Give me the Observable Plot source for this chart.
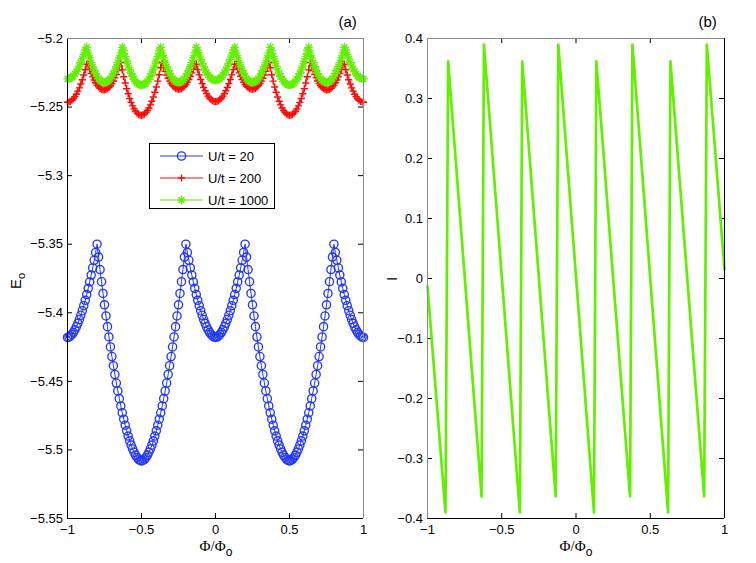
<!DOCTYPE html>
<html><head><meta charset="utf-8">
<script src="https://cdn.jsdelivr.net/npm/d3@7"></script>
<script src="https://cdn.jsdelivr.net/npm/@observablehq/plot@0.6"></script>
<style>
body{margin:0;background:#fff}
#fig{position:relative;width:756px;height:563px;font-family:"Liberation Sans",Arial,sans-serif}
#fig svg{position:absolute;top:0}
</style></head><body><div id="fig"></div>
<script>
// Flux grid: Phi/Phi0 from -1 to 1 in steps of 0.01
const phiStart = -1, phiStep = 0.01;
const seriesLabels = ["U/t = 20", "U/t = 200", "U/t = 1000"];

// Panel (a): ground-state energy E_o
const E_U20 = [
-5.4180,-5.4177,-5.4169,-5.4158,-5.4143,-5.4124,-5.4102,-5.4077,-5.4049,-5.4018,
-5.3985,-5.3948,-5.3909,-5.3867,-5.3822,-5.3775,-5.3725,-5.3673,-5.3617,-5.3560,
-5.3500,-5.3594,-5.3685,-5.3773,-5.3859,-5.3942,-5.4023,-5.4101,-5.4176,-5.4249,
-5.4319,-5.4386,-5.4450,-5.4512,-5.4570,-5.4626,-5.4679,-5.4729,-5.4776,-5.4820,
-5.4861,-5.4899,-5.4934,-5.4965,-5.4993,-5.5017,-5.5038,-5.5055,-5.5068,-5.5077,
-5.5080,-5.5077,-5.5068,-5.5055,-5.5038,-5.5017,-5.4993,-5.4965,-5.4934,-5.4899,
-5.4861,-5.4820,-5.4776,-5.4729,-5.4679,-5.4626,-5.4570,-5.4512,-5.4450,-5.4386,
-5.4319,-5.4249,-5.4176,-5.4101,-5.4023,-5.3942,-5.3859,-5.3773,-5.3685,-5.3594,
-5.3500,-5.3560,-5.3617,-5.3673,-5.3725,-5.3775,-5.3822,-5.3867,-5.3909,-5.3948,
-5.3985,-5.4018,-5.4049,-5.4077,-5.4102,-5.4124,-5.4143,-5.4158,-5.4169,-5.4177,
-5.4180,
-5.4177,-5.4169,-5.4158,-5.4143,-5.4124,-5.4102,-5.4077,-5.4049,-5.4018,-5.3985,
-5.3948,-5.3909,-5.3867,-5.3822,-5.3775,-5.3725,-5.3673,-5.3617,-5.3560,-5.3500,
-5.3594,-5.3685,-5.3773,-5.3859,-5.3942,-5.4023,-5.4101,-5.4176,-5.4249,-5.4319,
-5.4386,-5.4450,-5.4512,-5.4570,-5.4626,-5.4679,-5.4729,-5.4776,-5.4820,-5.4861,
-5.4899,-5.4934,-5.4965,-5.4993,-5.5017,-5.5038,-5.5055,-5.5068,-5.5077,-5.5080,
-5.5077,-5.5068,-5.5055,-5.5038,-5.5017,-5.4993,-5.4965,-5.4934,-5.4899,-5.4861,
-5.4820,-5.4776,-5.4729,-5.4679,-5.4626,-5.4570,-5.4512,-5.4450,-5.4386,-5.4319,
-5.4249,-5.4176,-5.4101,-5.4023,-5.3942,-5.3859,-5.3773,-5.3685,-5.3594,-5.3500,
-5.3560,-5.3617,-5.3673,-5.3725,-5.3775,-5.3822,-5.3867,-5.3909,-5.3948,-5.3985,
-5.4018,-5.4049,-5.4077,-5.4102,-5.4124,-5.4143,-5.4158,-5.4169,-5.4177,-5.4180
];
const E_U200 = [
-5.2465,-5.2463,-5.2458,-5.2450,-5.2439,-5.2424,-5.2406,-5.2384,-5.2360,-5.2332,
-5.2301,-5.2266,-5.2228,-5.2187,-5.2191,-5.2224,-5.2254,-5.2280,-5.2303,-5.2323,
-5.2340,-5.2353,-5.2364,-5.2371,-5.2374,-5.2375,-5.2372,-5.2366,-5.2357,-5.2344,
-5.2329,-5.2310,-5.2287,-5.2262,-5.2233,-5.2201,-5.2176,-5.2229,-5.2279,-5.2324,
-5.2366,-5.2403,-5.2437,-5.2466,-5.2491,-5.2513,-5.2530,-5.2544,-5.2553,-5.2559,
-5.2560,-5.2557,-5.2551,-5.2540,-5.2525,-5.2507,-5.2484,-5.2458,-5.2427,-5.2392,
-5.2354,-5.2311,-5.2264,-5.2213,-5.2177,-5.2210,-5.2240,-5.2267,-5.2290,-5.2311,
-5.2328,-5.2343,-5.2354,-5.2363,-5.2368,-5.2370,-5.2369,-5.2365,-5.2358,-5.2348,
-5.2335,-5.2318,-5.2299,-5.2276,-5.2251,-5.2222,-5.2190,-5.2187,-5.2227,-5.2265,
-5.2299,-5.2329,-5.2357,-5.2381,-5.2402,-5.2420,-5.2434,-5.2445,-5.2454,-5.2458,
-5.2460,
-5.2458,-5.2454,-5.2445,-5.2434,-5.2420,-5.2402,-5.2381,-5.2357,-5.2329,-5.2299,
-5.2265,-5.2227,-5.2187,-5.2190,-5.2222,-5.2251,-5.2276,-5.2299,-5.2318,-5.2335,
-5.2348,-5.2358,-5.2365,-5.2369,-5.2370,-5.2368,-5.2363,-5.2354,-5.2343,-5.2328,
-5.2311,-5.2290,-5.2267,-5.2240,-5.2210,-5.2177,-5.2213,-5.2264,-5.2311,-5.2354,
-5.2392,-5.2427,-5.2458,-5.2484,-5.2507,-5.2525,-5.2540,-5.2551,-5.2557,-5.2560,
-5.2559,-5.2553,-5.2544,-5.2530,-5.2513,-5.2491,-5.2466,-5.2437,-5.2403,-5.2366,
-5.2324,-5.2279,-5.2229,-5.2176,-5.2201,-5.2233,-5.2262,-5.2287,-5.2310,-5.2329,
-5.2344,-5.2357,-5.2366,-5.2372,-5.2375,-5.2374,-5.2371,-5.2364,-5.2353,-5.2340,
-5.2323,-5.2303,-5.2280,-5.2254,-5.2224,-5.2191,-5.2187,-5.2228,-5.2266,-5.2301,
-5.2332,-5.2360,-5.2384,-5.2406,-5.2424,-5.2439,-5.2450,-5.2458,-5.2463,-5.2465
];
const E_U1000 = [
-5.2295,-5.2294,-5.2289,-5.2282,-5.2272,-5.2258,-5.2242,-5.2223,-5.2201,-5.2176,
-5.2149,-5.2118,-5.2084,-5.2064,-5.2105,-5.2142,-5.2176,-5.2206,-5.2233,-5.2256,
-5.2276,-5.2292,-5.2304,-5.2313,-5.2318,-5.2320,-5.2318,-5.2313,-5.2304,-5.2292,
-5.2276,-5.2256,-5.2233,-5.2206,-5.2176,-5.2142,-5.2105,-5.2064,-5.2090,-5.2130,
-5.2166,-5.2199,-5.2229,-5.2255,-5.2277,-5.2297,-5.2312,-5.2324,-5.2333,-5.2338,
-5.2340,-5.2338,-5.2333,-5.2324,-5.2312,-5.2297,-5.2277,-5.2255,-5.2229,-5.2199,
-5.2166,-5.2130,-5.2090,-5.2064,-5.2105,-5.2142,-5.2176,-5.2206,-5.2233,-5.2256,
-5.2276,-5.2292,-5.2304,-5.2313,-5.2318,-5.2320,-5.2318,-5.2313,-5.2304,-5.2292,
-5.2276,-5.2256,-5.2233,-5.2206,-5.2176,-5.2142,-5.2105,-5.2064,-5.2085,-5.2120,
-5.2152,-5.2181,-5.2207,-5.2230,-5.2250,-5.2267,-5.2281,-5.2291,-5.2299,-5.2303,
-5.2305,
-5.2303,-5.2299,-5.2291,-5.2281,-5.2267,-5.2250,-5.2230,-5.2207,-5.2181,-5.2152,
-5.2120,-5.2085,-5.2064,-5.2105,-5.2142,-5.2176,-5.2206,-5.2233,-5.2256,-5.2276,
-5.2292,-5.2304,-5.2313,-5.2318,-5.2320,-5.2318,-5.2313,-5.2304,-5.2292,-5.2276,
-5.2256,-5.2233,-5.2206,-5.2176,-5.2142,-5.2105,-5.2064,-5.2090,-5.2130,-5.2166,
-5.2199,-5.2229,-5.2255,-5.2277,-5.2297,-5.2312,-5.2324,-5.2333,-5.2338,-5.2340,
-5.2338,-5.2333,-5.2324,-5.2312,-5.2297,-5.2277,-5.2255,-5.2229,-5.2199,-5.2166,
-5.2130,-5.2090,-5.2064,-5.2105,-5.2142,-5.2176,-5.2206,-5.2233,-5.2256,-5.2276,
-5.2292,-5.2304,-5.2313,-5.2318,-5.2320,-5.2318,-5.2313,-5.2304,-5.2292,-5.2276,
-5.2256,-5.2233,-5.2206,-5.2176,-5.2142,-5.2105,-5.2064,-5.2084,-5.2118,-5.2149,
-5.2176,-5.2201,-5.2223,-5.2242,-5.2258,-5.2272,-5.2282,-5.2289,-5.2294,-5.2295
];

// Panel (b): persistent current I (vertices of the sawtooth)
const I_phi = [-1,-0.879,-0.861,-0.636,-0.620,-0.378,-0.362,-0.137,-0.119,0.121,0.137,0.364,0.380,0.620,0.636,0.863,0.881,1];
const I_val = [-0.013,-0.390,0.362,-0.363,0.390,-0.390,0.362,-0.363,0.390,-0.390,0.362,-0.363,0.390,-0.390,0.362,-0.363,0.390,0.015];

// Axis ticks
const xTicks = [-1, -0.5, 0, 0.5, 1];
const yTicksA = [-5.55, -5.5, -5.45, -5.4, -5.35, -5.3, -5.25, -5.2];
const yTicksB = [-0.4, -0.3, -0.2, -0.1, 0, 0.1, 0.2, 0.3, 0.4];

const BLUE = "#2236ff", RED = "#ff0a0a", GREEN = "#62f000";
const fmt = d => String(d).replace("-", "\u2212");
const rows = arr => arr.map((E, i) => ({phi: +(phiStart + i * phiStep).toFixed(2), E}));

const plusSym = {draw(c, s) { const r = Math.sqrt(s / Math.PI);
  c.moveTo(-r, 0); c.lineTo(r, 0); c.moveTo(0, -r); c.lineTo(0, r); }};
const starSym = {draw(c, s) { const r = Math.sqrt(s / Math.PI), q = r * 0.72;
  c.moveTo(-r, 0); c.lineTo(r, 0); c.moveTo(0, -r); c.lineTo(0, r);
  c.moveTo(-q, -q); c.lineTo(q, q); c.moveTo(-q, q); c.lineTo(q, -q); }};

const style = {fontFamily: "Liberation Sans, Arial, sans-serif", fontSize: "13px", color: "#000", background: "transparent", overflow: "visible"};
const GRAY = "#8a8a8a";

// ---- Panel (a)
const fwA = 296, fhA = 480;
const left = Plot.plot({
  width: 378, height: 563, marginLeft: 67, marginRight: 15, marginTop: 38, marginBottom: 45,
  style,
  x: {domain: [-1, 1]},
  y: {domain: [-5.55, -5.2]},
  marks: [
    Plot.axisX(xTicks, {tickSize: 0, tickPadding: 6, tickFormat: fmt, label: null}),
    Plot.axisY(yTicksA, {tickSize: 0, tickPadding: 4.5, tickFormat: fmt, label: null}),
    Plot.tickX(xTicks, {x: d => d, insetTop: fhA - 5, stroke: "#000"}),
    Plot.tickX(xTicks, {x: d => d, insetBottom: fhA - 5, stroke: "#000"}),
    Plot.tickY(yTicksA, {y: d => d, insetRight: fwA - 5, stroke: "#000"}),
    Plot.tickY(yTicksA, {y: d => d, insetLeft: fwA - 5, stroke: "#000"}),
    Plot.line(rows(E_U20), {x: "phi", y: "E", stroke: BLUE, strokeWidth: 1}),
    Plot.dot(rows(E_U20), {x: "phi", y: "E", r: 4.1, stroke: BLUE, strokeWidth: 1.35, fill: "none"}),
    Plot.line(rows(E_U200), {x: "phi", y: "E", stroke: RED, strokeWidth: 1}),
    Plot.dot(rows(E_U200), {x: "phi", y: "E", r: 3.6, symbol: plusSym, stroke: RED, strokeWidth: 1.4, fill: "none"}),
    Plot.line(rows(E_U1000), {x: "phi", y: "E", stroke: GREEN, strokeWidth: 1}),
    Plot.dot(rows(E_U1000), {x: "phi", y: "E", r: 4.2, symbol: starSym, stroke: GREEN, strokeWidth: 1.3, fill: "none"}),
    Plot.ruleX([-1], {stroke: "#000"}),
    Plot.ruleX([1], {stroke: GRAY}),
    Plot.ruleY([-5.55], {stroke: "#000"}),
    Plot.ruleY([-5.2], {stroke: GRAY})
  ]
});
left.style.left = "0px";

// ---- Panel (b)
const fwB = 297, fhB = 480;
const Irows = I_phi.map((p, i) => ({phi: p, I: I_val[i]}));
const right = Plot.plot({
  width: 378, height: 563, marginLeft: 49, marginRight: 32, marginTop: 38, marginBottom: 45,
  style,
  x: {domain: [-1, 1]},
  y: {domain: [-0.4, 0.4]},
  marks: [
    Plot.axisX(xTicks, {tickSize: 0, tickPadding: 6, tickFormat: fmt, label: null}),
    Plot.axisY(yTicksB, {tickSize: 0, tickPadding: 4.5, tickFormat: fmt, label: null}),
    Plot.tickX(xTicks, {x: d => d, insetTop: fhB - 5, stroke: "#000"}),
    Plot.tickX(xTicks, {x: d => d, insetBottom: fhB - 5, stroke: "#000"}),
    Plot.tickY(yTicksB, {y: d => d, insetRight: fwB - 5, stroke: "#000"}),
    Plot.tickY(yTicksB, {y: d => d, insetLeft: fwB - 5, stroke: "#000"}),
    Plot.line(Irows, {x: "phi", y: "I", stroke: GREEN, strokeWidth: 2.7}),
    Plot.ruleX([-1], {stroke: GRAY}),
    Plot.ruleX([1], {stroke: "#000"}),
    Plot.ruleY([-0.4], {stroke: "#000"}),
    Plot.ruleY([0.4], {stroke: GRAY})
  ]
});
right.style.left = "378px";

const fig = document.getElementById("fig");
fig.append(left, right);

// ---- Text overlay and legend
const ov = d3.create("svg").attr("width", 756).attr("height", 563)
  .style("left", "0px").style("pointer-events", "none")
  .attr("font-family", "Liberation Sans, Arial, sans-serif").attr("fill", "#000");
ov.append("text").attr("x", 338.5).attr("y", 27).attr("font-size", 15).text("(a)");
ov.append("text").attr("x", 698.5).attr("y", 27).attr("font-size", 15).text("(b)");
const ey = ov.append("text").attr("transform", "translate(21,281) rotate(-90)").attr("text-anchor", "middle").attr("font-size", 15);
ey.append("tspan").text("E");
ey.append("tspan").attr("font-size", 11).attr("dy", 4).text("o");
ov.append("text").attr("transform", "translate(397,279) rotate(-90)").attr("text-anchor", "middle").attr("font-size", 15).text("I");
for (const cx of [216, 576]) {
  const t = ov.append("text").attr("x", cx).attr("y", 551).attr("text-anchor", "middle").attr("font-size", 15);
  t.append("tspan").attr("font-family", "Liberation Serif, Times New Roman, serif").text("\u03A6/\u03A6");
  t.append("tspan").attr("font-size", 12).attr("dy", 5).text("o");
}
// legend
const lg = ov.append("g");
lg.append("rect").attr("x", 149.5).attr("y", 143.5).attr("width", 125).attr("height", 65)
  .attr("fill", "#fff").attr("stroke", "#000");
const legendStyles = [
  {color: BLUE, sym: d3.symbolCircle, r: 4.1, sw: 1.35},
  {color: RED, sym: plusSym, r: 3.6, sw: 1.4},
  {color: GREEN, sym: starSym, r: 4.2, sw: 1.3}
];
seriesLabels.forEach((lab, i) => {
  const y = 156 + i * 22, s = legendStyles[i];
  lg.append("line").attr("x1", 160).attr("x2", 203).attr("y1", y).attr("y2", y).attr("stroke", s.color).attr("stroke-width", 1.2);
  lg.append("path").attr("transform", `translate(181.5,${y})`)
    .attr("d", d3.symbol(s.sym, Math.PI * s.r * s.r)()).attr("fill", "none")
    .attr("stroke", s.color).attr("stroke-width", s.sw);
  lg.append("text").attr("x", 208).attr("y", y + 4.5).attr("font-size", 13).text(lab);
});
fig.append(ov.node());
</script>
</body></html>
